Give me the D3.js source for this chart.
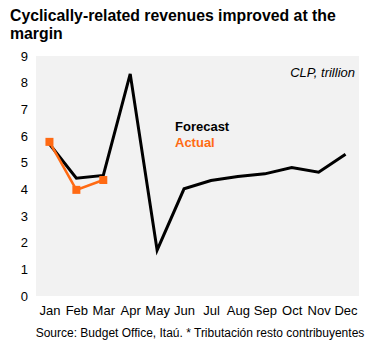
<!DOCTYPE html>
<html>
<head>
<meta charset="utf-8">
<script src="https://cdn.jsdelivr.net/npm/d3@7"></script>
<style>
  body { margin: 0; background: #fff; }
  svg { font-family: "Liberation Sans", Arial, sans-serif; }
</style>
</head>
<body>
<svg id="chart"></svg>
<script>
// Monthly cyclically-related revenues, CLP trillion
const months = ["Jan", "Feb", "Mar", "Apr", "May", "Jun", "Jul", "Aug", "Sep", "Oct", "Nov", "Dec"];
const forecast = [5.7, 4.42, 4.52, 8.33, 1.72, 4.02, 4.33, 4.48, 4.58, 4.82, 4.64, 5.32];
const actual = [5.78, 3.98, 4.35];
const yTicks = [0, 1, 2, 3, 4, 5, 6, 7, 8, 9];

const width = 375;
const height = 347;
const margin = { top: 56, right: 16, bottom: 51, left: 36 };

const svg = d3.select("#chart")
    .attr("width", width)
    .attr("height", height);

// Title
svg.append("text")
    .attr("x", 10).attr("y", 21)
    .attr("font-size", 15.8).attr("font-weight", "bold")
    .text("Cyclically-related revenues improved at the");
svg.append("text")
    .attr("x", 10).attr("y", 39)
    .attr("font-size", 15.8).attr("font-weight", "bold")
    .text("margin");

const x = d3.scalePoint()
    .domain(months)
    .range([margin.left, width - margin.right])
    .padding(0.5);

const y = d3.scaleLinear()
    .domain([0, 9])
    .range([height - margin.bottom, margin.top]);

// Plot background
svg.append("rect")
    .attr("x", margin.left)
    .attr("y", margin.top)
    .attr("width", width - margin.left - margin.right)
    .attr("height", height - margin.top - margin.bottom)
    .attr("fill", "#f2f2f2");

// Y axis labels
svg.append("g")
    .attr("transform", `translate(${margin.left - 8},0)`)
    .call(d3.axisLeft(y).tickValues(yTicks).tickSize(0).tickPadding(0))
    .call(g => g.select(".domain").remove())
    .selectAll("text")
    .attr("font-family", "Liberation Sans, Arial, sans-serif")
    .attr("font-size", 13)
    .attr("fill", "#000");

// X axis labels
svg.append("g")
    .attr("transform", `translate(0,${height - margin.bottom + 10})`)
    .call(d3.axisBottom(x).tickSize(0).tickPadding(0))
    .call(g => g.select(".domain").remove())
    .selectAll("text")
    .attr("font-family", "Liberation Sans, Arial, sans-serif")
    .attr("font-size", 13)
    .attr("fill", "#000");

const line = d3.line()
    .x((d, i) => x(months[i]))
    .y(d => y(d));

svg.append("path")
    .datum(forecast)
    .attr("d", line)
    .attr("fill", "none")
    .attr("stroke", "#000")
    .attr("stroke-width", 3)
    .attr("stroke-linejoin", "miter");

svg.append("path")
    .datum(actual)
    .attr("d", line)
    .attr("fill", "none")
    .attr("stroke", "#ff6a13")
    .attr("stroke-width", 2.5);

svg.selectAll(".marker")
    .data(actual)
    .enter()
    .append("rect")
    .attr("class", "marker")
    .attr("x", (d, i) => x(months[i]) - 4)
    .attr("y", d => y(d) - 4)
    .attr("width", 8)
    .attr("height", 8)
    .attr("fill", "#ff6a13");

// Series labels
svg.append("text")
    .attr("x", 175).attr("y", 131)
    .attr("font-size", 13).attr("font-weight", "bold")
    .attr("fill", "#000")
    .text("Forecast");
svg.append("text")
    .attr("x", 175).attr("y", 147)
    .attr("font-size", 13).attr("font-weight", "bold")
    .attr("fill", "#ff6a13")
    .text("Actual");

// Unit note
svg.append("text")
    .attr("x", 355).attr("y", 77)
    .attr("text-anchor", "end")
    .attr("font-size", 13).attr("font-style", "italic")
    .text("CLP, trillion");

// Source
svg.append("text")
    .attr("x", 200).attr("y", 337)
    .attr("text-anchor", "middle")
    .attr("font-size", 12)
    .text("Source: Budget Office, Itaú. * Tributación resto contribuyentes");
</script>
</body>
</html>
